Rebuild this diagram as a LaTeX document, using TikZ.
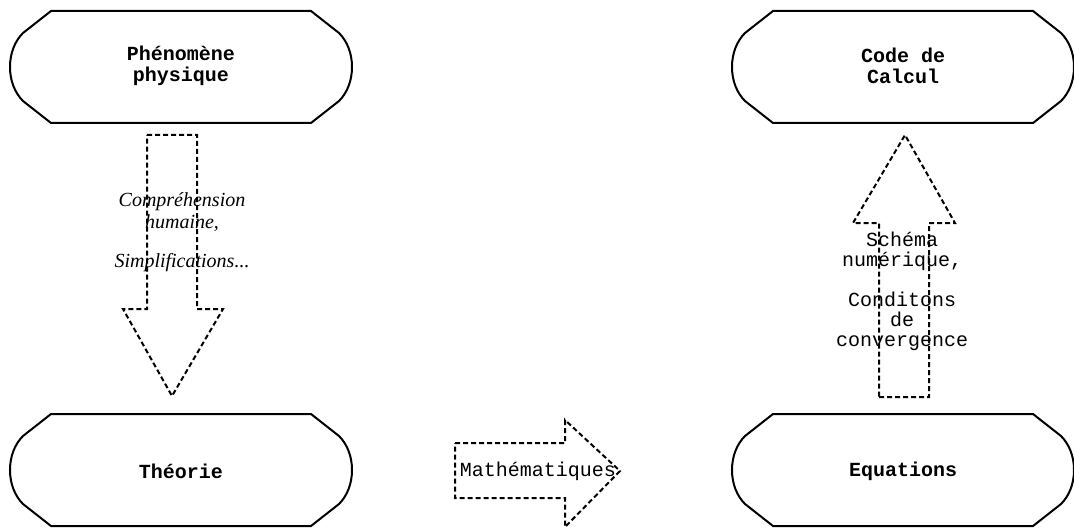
\documentclass[tikz,border=0pt]{standalone}
\usepackage{fontspec}
\setmainfont{Liberation Serif}
\setmonofont{Liberation Mono}
\usepackage{tikz}

\tikzset{
    capsule/.pic={
        \draw[line width=1pt] (-130,-56) -- (130,-56) -- (158,-34)
            .. controls (166,-26) and (171,-14) .. (171,0)
            .. controls (171,14) and (166,26) .. (158,34)
            -- (130,56) -- (-130,56) -- (-158,34)
            .. controls (-166,26) and (-171,14) .. (-171,0)
            .. controls (-171,-14) and (-166,-26) .. (-158,-34) -- cycle;
    },
    blockarrow/.style={line width=1pt, dash pattern=on 2.5pt off 1.5pt},
    boxtext/.style={font=\fontsize{10}{10.5}\selectfont\ttfamily\bfseries, align=center},
    monotext/.style={font=\fontsize{10}{10}\selectfont\ttfamily, align=center},
}

\begin{document}
\begin{tikzpicture}[x=0.5pt, y=-0.5pt]
    \useasboundingbox (0,0) rectangle (1074,529);

    % the four boxes
    \pic at (181,67) {capsule};
    \pic at (903,67) {capsule};
    \pic at (181,470) {capsule};
    \pic at (903,470) {capsule};

    \node[boxtext] (phenomene) at (181,66) {Phénomène\\physique};
    \node[boxtext] (code) at (903,66) {Code de\\Calcul};
    \node[boxtext] (theorie) at (181,471) {Théorie};
    \node[boxtext] (equations) at (903,471) {Equations};

    % block arrows
    \draw[blockarrow] (147,135) -- (197,135) -- (197,309) -- (223,309) -- (172,396) -- (123,309) -- (147,309) -- cycle;
    \draw[blockarrow] (879,397) -- (929,397) -- (929,223) -- (955,223) -- (905,135) -- (853,223) -- (879,223) -- cycle;
    \draw[blockarrow] (455,443) -- (565,443) -- (565,420) -- (620,471) -- (565,527) -- (565,498) -- (455,498) -- cycle;

    \node[font=\fontsize{10}{11}\selectfont\itshape, align=center] (comprehension) at (182,232) {Compréhension\\humaine,\\[8.5pt]Simplifications...};
    \node[monotext] (schema) at (902,291) {Schéma\\numérique,\\[10pt]Conditons\\de\\convergence};
    \node[monotext] (maths) at (538,471) {Mathématiques};
\end{tikzpicture}
\end{document}
